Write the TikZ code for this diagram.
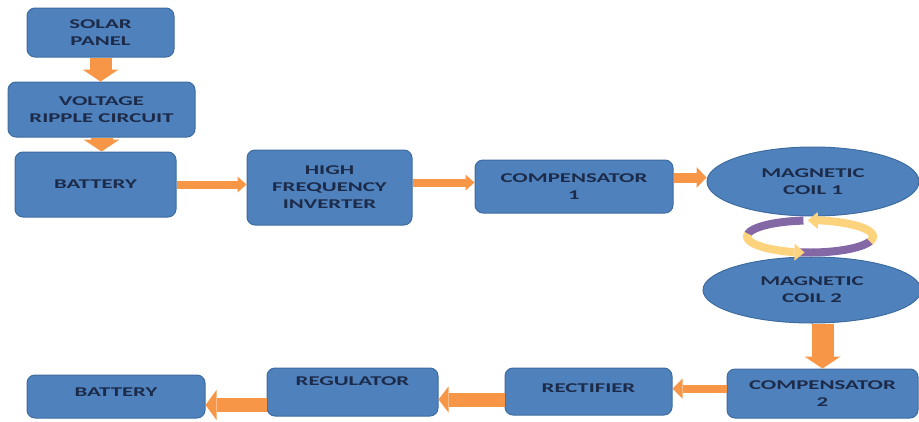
\documentclass[tikz,border=0pt]{standalone}
\usepackage{fontspec}
\setmainfont[FakeStretch=1.7]{Carlito}
\usepackage{tikz}
\usetikzlibrary{arrows.meta,shapes.geometric}
\usepackage{xcolor}
\definecolor{boxblue}{HTML}{4F81BD}
\definecolor{boxedge}{HTML}{3E6C9F}
\definecolor{textnavy}{HTML}{1C2B49}
\definecolor{arroworange}{HTML}{F79646}
\definecolor{ringpurple}{HTML}{8468A6}
\definecolor{ringyellow}{HTML}{FDD37E}

\begin{document}
\begin{tikzpicture}[x=1pt,y=-1pt,font=\fontsize{13.4}{17}\selectfont\bfseries,
  blk/.style={draw=boxedge,line width=1pt,fill=boxblue,rounded corners=8pt,text=textnavy,align=center,inner sep=2pt},
  coil/.style={ellipse,draw=boxedge,line width=1pt,fill=boxblue,text=textnavy,align=center,inner sep=0pt},
  bigarrow/.style={draw=arroworange,line width=22pt,-{Triangle[width=36pt,length=12pt,line width=0pt]}},
  midarrow/.style={draw=arroworange,line width=14pt,-{Triangle[width=30pt,length=11pt,line width=0pt]}},
  thinarrow/.style={draw=arroworange,line width=8pt,-{Triangle[width=16pt,length=9pt,line width=0pt]}},
  ringband/.style={line width=8pt},
  ringtip/.style={-{Triangle[width=17pt,length=10pt,line width=0pt]}}]
\useasboundingbox (0,0) rectangle (919,421);
\node[blk,minimum width=147pt,minimum height=49pt] (solar) at (100.5,32.5) {SOLAR\\PANEL};
\node[blk,minimum width=187pt,minimum height=55pt] (ripple) at (101.5,109.5) {VOLTAGE\\RIPPLE CIRCUIT};
\node[blk,minimum width=161pt,minimum height=65pt] (batin) at (95.5,184.5) {BATTERY};
\node[blk,minimum width=165pt,minimum height=75pt] (inverter) at (329.5,187.5) {HIGH\\FREQUENCY\\INVERTER};
\node[blk,minimum width=198pt,minimum height=53pt] (compa) at (574,186.5) {COMPENSATOR\\1};
\node[coil,minimum width=212pt,minimum height=69pt] (coila) at (813,181.5) {MAGNETIC\\COIL 1};
\node[coil,minimum width=218pt,minimum height=66pt] (coilb) at (812,290) {MAGNETIC\\COIL 2};
\node[blk,minimum width=191pt,minimum height=49pt] (compb) at (822.5,393.5) {COMPENSATOR\\2};
\node[blk,minimum width=167pt,minimum height=47pt,text depth=7pt] (rect) at (588.5,391.5) {RECTIFIER};
\node[blk,minimum width=171pt,minimum height=48pt,text depth=22pt] (reg) at (352.5,392) {REGULATOR};
\node[blk,minimum width=178pt,minimum height=43pt,text depth=9pt] (batout) at (116,396.5) {BATTERY};
\draw[bigarrow] (solar.south) -- (solar.south |- ripple.north);
\draw[bigarrow] (ripple.south) -- (ripple.south |- batin.north);
\draw[thinarrow] (batin.east) -- (batin.east -| inverter.west);
\draw[thinarrow] ([yshift=5pt]inverter.east) -- ([yshift=5pt]inverter.east -| compa.west);
\draw[midarrow,line width=10pt,-{Triangle[width=21pt,length=10pt,line width=0pt]}] ([yshift=9pt]compa.east) -- ([yshift=9pt]compa.east -| coila.west);
\draw[bigarrow] (compb.north |- coilb.south) -- (compb.north);
\draw[thinarrow,-{Triangle[width=20pt,length=10pt,line width=0pt]}] ([yshift=5pt]compb.west) -- ([yshift=5pt]compb.west -| rect.east);
\draw[midarrow,-{Triangle[width=26pt,length=10pt,line width=0pt]}] ([yshift=-8pt]rect.west) -- ([yshift=-8pt]rect.west -| reg.east);
\draw[midarrow] ([yshift=-13pt]reg.west) -- ([yshift=-13pt]reg.west -| batout.east);
\coordinate (ring) at (810,236.5);
\draw[ringband,ringpurple] (ring) ++(-96:63 and 16) arc[start angle=-96,end angle=-172,x radius=63,y radius=16];
\draw[ringband,ringpurple] (ring) ++(100:63 and 16) arc[start angle=100,end angle=16,x radius=63,y radius=16];
\draw[ringband,ringyellow,ringtip] (ring) ++(18:63 and 16) arc[start angle=18,end angle=-92,x radius=63,y radius=16];
\draw[ringband,ringyellow,ringtip] (ring) ++(190:63 and 16) arc[start angle=190,end angle=95,x radius=63,y radius=16];
\end{tikzpicture}
\end{document}
